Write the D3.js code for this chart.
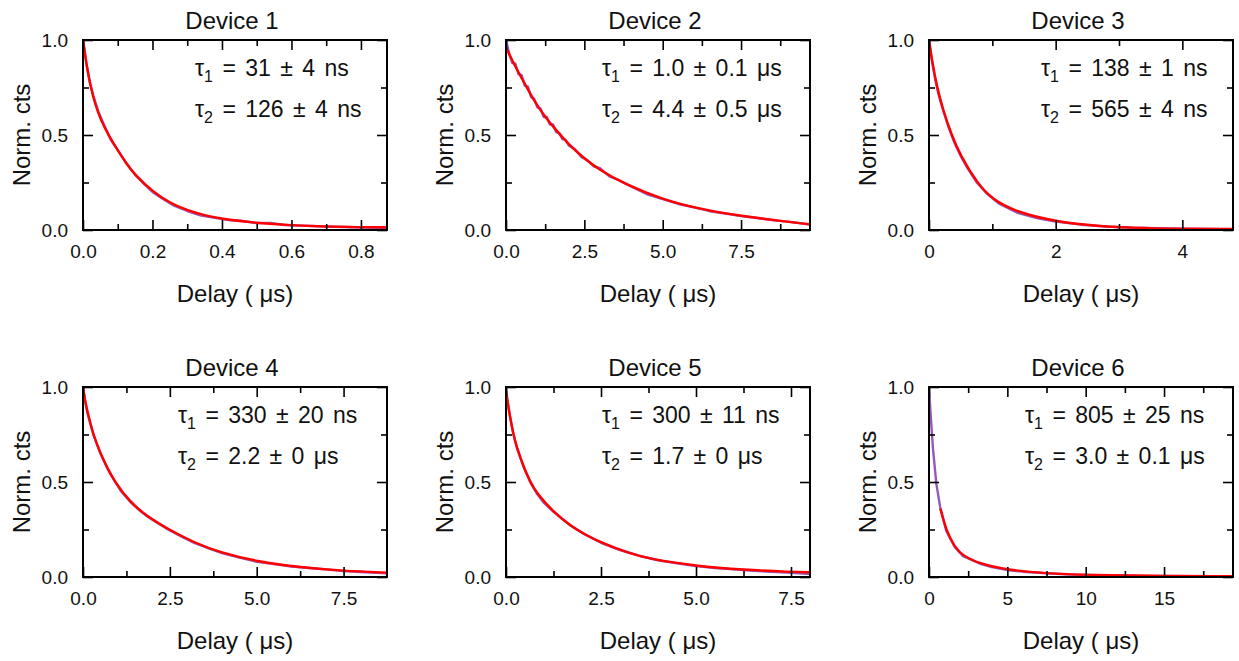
<!DOCTYPE html>
<html>
<head>
<meta charset="utf-8">
<script src="https://cdn.jsdelivr.net/npm/d3@7"></script>
<style>
  html, body { margin: 0; padding: 0; background: #fff; }
  svg { display: block; font-family: "Liberation Sans", Arial, Helvetica, sans-serif; }
  text { white-space: pre; }
</style>
</head>
<body>
<svg id="chart" width="1239" height="661"></svg>
<script>
// ---------------- DATA ----------------
const panelTitles = ["Device 1", "Device 2", "Device 3", "Device 4", "Device 5", "Device 6"];
const tau1Labels = ["31 ± 4 ns", "1.0 ± 0.1 μs", "138 ± 1 ns", "330 ± 20 ns", "300 ± 11 ns", "805 ± 25 ns"];
const tau2Labels = ["126 ± 4 ns", "4.4 ± 0.5 μs", "565 ± 4 ns", "2.2 ± 0 μs", "1.7 ± 0 μs", "3.0 ± 0.1 μs"];
const xAxisTitle = "Delay ( μs)";
const yAxisTitle = "Norm. cts";

const xMax = [0.875, 9.7, 4.8, 8.75, 8.0, 19.4];
const xMajorTicks = [[0, 0.2, 0.4, 0.6, 0.8], [0, 2.5, 5, 7.5], [0, 2, 4], [0, 2.5, 5, 7.5], [0, 2.5, 5, 7.5], [0, 5, 10, 15]];
const xTickLabels = [["0.0", "0.2", "0.4", "0.6", "0.8"], ["0.0", "2.5", "5.0", "7.5"], ["0", "2", "4"], ["0.0", "2.5", "5.0", "7.5"], ["0.0", "2.5", "5.0", "7.5"], ["0", "5", "10", "15"]];
const xMinorTicks = [[0.1, 0.3, 0.5, 0.7], [1.25, 3.75, 6.25, 8.75], [1, 3], [1.25, 3.75, 6.25], [1.25, 3.75, 6.25], [2.5, 7.5, 12.5, 17.5]];
const yMajorTicks = [0, 0.5, 1.0];
const yTickLabels = ["0.0", "0.5", "1.0"];
const yMinorTicks = [0.25, 0.75];

// measured (purple) decays
const dataDelay1 = [0, 0.01, 0.02, 0.03, 0.045, 0.06, 0.08, 0.1, 0.12, 0.15, 0.18, 0.2, 0.23, 0.26, 0.3, 0.34, 0.38, 0.42, 0.46, 0.5, 0.54, 0.58, 0.62, 0.66, 0.7, 0.75, 0.8, 0.85, 0.875];
const dataCounts1 = [1.0, 0.875, 0.775, 0.705, 0.62, 0.555, 0.475, 0.42, 0.365, 0.29, 0.235, 0.2, 0.163, 0.13, 0.1, 0.076, 0.064, 0.052, 0.047, 0.036, 0.037, 0.026, 0.023, 0.021, 0.018, 0.016, 0.013, 0.012, 0.012];
const dataDelay2 = [0, 0.1, 0.2, 0.3, 0.4, 0.5, 0.6, 0.7, 0.8, 0.9, 1.0, 1.1, 1.2, 1.3, 1.4, 1.5, 1.6, 1.7, 1.8, 1.9, 2.0, 2.2, 2.4, 2.6, 2.8, 3.0, 3.3, 3.6, 4.0, 4.5, 5.0, 5.5, 6.0, 6.5, 7.0, 7.5, 8.0, 8.5, 9.0, 9.7];
const dataCounts2 = [1.0, 0.93, 0.88, 0.875, 0.82, 0.815, 0.76, 0.755, 0.70, 0.69, 0.645, 0.64, 0.595, 0.595, 0.555, 0.555, 0.515, 0.51, 0.478, 0.475, 0.445, 0.425, 0.385, 0.367, 0.335, 0.325, 0.282, 0.262, 0.228, 0.188, 0.162, 0.137, 0.119, 0.099, 0.087, 0.073, 0.063, 0.052, 0.044, 0.029];
const dataDelay3 = [0, 0.05, 0.1, 0.15, 0.22, 0.3, 0.4, 0.5, 0.6, 0.75, 0.9, 1.1, 1.4, 1.7, 2.0, 2.4, 2.8, 3.2, 3.6, 4.0, 4.4, 4.8];
const dataCounts3 = [1.0, 0.885, 0.79, 0.715, 0.632, 0.55, 0.46, 0.39, 0.33, 0.252, 0.196, 0.14, 0.09, 0.063, 0.045, 0.028, 0.018, 0.012, 0.009, 0.007, 0.005, 0.004];
const dataDelay4 = [0, 0.05, 0.12, 0.2, 0.3, 0.5, 0.7, 0.9, 1.1, 1.35, 1.6, 1.85, 2.1, 2.47, 2.8, 3.2, 3.6, 4.0, 4.5, 5.0, 5.5, 6.0, 6.5, 7.0, 7.5, 8.0, 8.75];
const dataCounts4 = [1.0, 0.935, 0.87, 0.815, 0.748, 0.652, 0.572, 0.508, 0.45, 0.397, 0.355, 0.318, 0.29, 0.248, 0.216, 0.18, 0.152, 0.126, 0.102, 0.08, 0.068, 0.055, 0.047, 0.04, 0.031, 0.026, 0.02];
const dataDelay5 = [0, 0.03, 0.1, 0.19, 0.28, 0.46, 0.64, 0.81, 1.0, 1.25, 1.5, 1.7, 2.05, 2.5, 3.0, 3.5, 4.0, 4.5, 5.0, 5.5, 6.0, 6.5, 7.0, 7.5, 8.0];
const dataCounts5 = [1.0, 0.94, 0.85, 0.757, 0.683, 0.582, 0.498, 0.44, 0.39, 0.343, 0.302, 0.271, 0.227, 0.18, 0.142, 0.112, 0.088, 0.072, 0.058, 0.047, 0.04, 0.033, 0.027, 0.022, 0.016];
const dataDelay6 = [0, 0.1, 0.26, 0.47, 0.73, 1.1, 1.64, 2.17, 3.23, 4.0, 5.0, 6.0, 7.5, 9, 10, 12, 14, 15, 17, 19.4];
const dataCounts6 = [1.0, 0.86, 0.67, 0.49, 0.36, 0.243, 0.158, 0.11, 0.071, 0.052, 0.036, 0.028, 0.019, 0.013, 0.011, 0.008, 0.006, 0.005, 0.004, 0.003];

// fitted (red) decays
const fitDelay1 = [0, 0.01, 0.02, 0.035, 0.05, 0.073, 0.1, 0.125, 0.15, 0.2, 0.25, 0.3, 0.35, 0.4, 0.5, 0.6, 0.7, 0.8, 0.875];
const fitCounts1 = [1.0, 0.87, 0.77, 0.66, 0.585, 0.5, 0.42, 0.348, 0.29, 0.203, 0.143, 0.103, 0.077, 0.058, 0.037, 0.025, 0.018, 0.015, 0.014];
const fitDelay2 = [0, 0.25, 0.5, 0.875, 1.25, 1.5, 2.0, 2.5, 3.0, 3.75, 5.0, 6.25, 7.5, 8.5, 9.7];
const fitCounts2 = [0.96, 0.875, 0.80, 0.685, 0.595, 0.545, 0.45, 0.375, 0.315, 0.245, 0.16, 0.108, 0.074, 0.053, 0.03];
const fitDelay3 = [0, 0.05, 0.128, 0.22, 0.356, 0.5, 0.755, 1.0, 1.38, 2.0, 2.64, 3.17, 4.0, 4.8];
const fitCounts3 = [1.0, 0.885, 0.75, 0.635, 0.5, 0.39, 0.25, 0.16, 0.095, 0.044, 0.021, 0.012, 0.006, 0.005];
const fitDelay4 = [0, 0.05, 0.115, 0.21, 0.3, 0.5, 0.7, 0.9, 1.35, 1.85, 2.47, 3.19, 3.96, 5.0, 6.27, 7.5, 8.75];
const fitCounts4 = [1.0, 0.94, 0.88, 0.81, 0.75, 0.65, 0.575, 0.505, 0.395, 0.318, 0.25, 0.182, 0.128, 0.082, 0.05, 0.032, 0.023];
const fitDelay5 = [0, 0.02, 0.105, 0.19, 0.28, 0.46, 0.64, 0.81, 1.25, 1.69, 2.05, 2.5, 3.24, 3.77, 5.0, 6.25, 7.5, 8.0];
const fitCounts5 = [0.98, 0.95, 0.845, 0.755, 0.685, 0.58, 0.50, 0.44, 0.342, 0.271, 0.227, 0.181, 0.125, 0.095, 0.058, 0.038, 0.027, 0.025];
const fitDelay6 = [0.73, 1.1, 1.64, 2.17, 3.23, 5.0, 7.5, 10, 15, 19.4];
const fitCounts6 = [0.36, 0.245, 0.157, 0.112, 0.07, 0.037, 0.019, 0.011, 0.005, 0.004];

const dataDelays = [dataDelay1, dataDelay2, dataDelay3, dataDelay4, dataDelay5, dataDelay6];
const dataCounts = [dataCounts1, dataCounts2, dataCounts3, dataCounts4, dataCounts5, dataCounts6];
const fitDelays = [fitDelay1, fitDelay2, fitDelay3, fitDelay4, fitDelay5, fitDelay6];
const fitCounts = [fitCounts1, fitCounts2, fitCounts3, fitCounts4, fitCounts5, fitCounts6];

// ---------------- LAYOUT ----------------
const colLeft = [83, 506, 929];
const rowTop = [40, 387];
const plotW = 304, plotH = 190;
const tauOffsetX = [112, 96, 112, 95, 96, 96];

const svg = d3.select("#chart");
svg.append("rect").attr("width", 1239).attr("height", 661).attr("fill", "#fff");

panelTitles.forEach((title, i) => {
  const col = i % 3, row = Math.floor(i / 3);
  const g = svg.append("g").attr("transform", `translate(${colLeft[col]},${rowTop[row]})`);
  const x = d3.scaleLinear().domain([0, xMax[i]]).range([0, plotW]);
  const y = d3.scaleLinear().domain([0, 1]).range([plotH, 0]);

  const clipId = "clip" + i;
  g.append("clipPath").attr("id", clipId).append("rect")
    .attr("x", 0).attr("y", -2).attr("width", plotW).attr("height", plotH + 2);

  // lines
  const dataPts = dataDelays[i].map((t, k) => [t, dataCounts[i][k]]);
  const fitPts = fitDelays[i].map((t, k) => [t, fitCounts[i][k]]);
  const dataLine = d3.line().x(d => x(d[0])).y(d => y(d[1])).curve(d3.curveLinear);
  const fitLine = d3.line().x(d => x(d[0])).y(d => y(d[1])).curve(d3.curveBasis);
  g.append("path").datum(dataPts).attr("clip-path", `url(#${clipId})`)
    .attr("d", dataLine).attr("fill", "none")
    .attr("stroke", "#9658b8").attr("stroke-width", 2.4).attr("stroke-linejoin", "round");
  g.append("path").datum(fitPts).attr("clip-path", `url(#${clipId})`)
    .attr("d", fitLine).attr("fill", "none")
    .attr("stroke", "#ff0000").attr("stroke-width", 2.4).attr("stroke-linejoin", "round");

  // axes
  const fmtX = d => xTickLabels[i][xMajorTicks[i].indexOf(d)];
  const fmtY = d => yTickLabels[yMajorTicks.indexOf(d)];
  const axes = [];
  axes.push(g.append("g").attr("transform", `translate(0,${plotH})`)
    .call(d3.axisBottom(x).tickValues(xMajorTicks[i]).tickSize(-10).tickPadding(15).tickFormat(fmtX)));
  axes.push(g.append("g").attr("transform", `translate(0,${plotH})`)
    .call(d3.axisBottom(x).tickValues(xMinorTicks[i]).tickSize(-6).tickFormat("")));
  axes.push(g.append("g")
    .call(d3.axisTop(x).tickValues(xMajorTicks[i]).tickSize(-10).tickFormat("")));
  axes.push(g.append("g")
    .call(d3.axisTop(x).tickValues(xMinorTicks[i]).tickSize(-6).tickFormat("")));
  axes.push(g.append("g")
    .call(d3.axisLeft(y).tickValues(yMajorTicks).tickSize(-10).tickPadding(15).tickFormat(fmtY)));
  axes.push(g.append("g")
    .call(d3.axisLeft(y).tickValues(yMinorTicks).tickSize(-6).tickFormat("")));
  axes.push(g.append("g").attr("transform", `translate(${plotW},0)`)
    .call(d3.axisRight(y).tickValues(yMajorTicks).tickSize(-10).tickFormat("")));
  axes.push(g.append("g").attr("transform", `translate(${plotW},0)`)
    .call(d3.axisRight(y).tickValues(yMinorTicks).tickSize(-6).tickFormat("")));
  axes.forEach(a => {
    a.select(".domain").remove();
    a.selectAll(".tick line").attr("stroke", "#000").attr("stroke-width", 1.6);
    a.selectAll(".tick text").attr("fill", "#111").style("font-size", "19px")
      .style("font-family", "'Liberation Sans', Arial, sans-serif");
  });

  // frame
  g.append("rect").attr("x", 0).attr("y", 0).attr("width", plotW).attr("height", plotH)
    .attr("fill", "none").attr("stroke", "#000").attr("stroke-width", 2);

  // title
  g.append("text").attr("x", plotW / 2 - 3).attr("y", -11)
    .attr("text-anchor", "middle").style("font-size", "24px").attr("fill", "#111").text(title);

  // axis titles
  g.append("text").attr("x", plotW / 2).attr("y", plotH + 72)
    .attr("text-anchor", "middle").style("font-size", "24px").attr("fill", "#111").text(xAxisTitle);
  g.append("text").attr("transform", `translate(-53,${plotH / 2}) rotate(-90)`)
    .attr("text-anchor", "middle").style("font-size", "24px").attr("fill", "#111").text(yAxisTitle);

  // tau annotations
  [[tau1Labels[i], "1", 36], [tau2Labels[i], "2", 77]].forEach(([lab, sub, yy]) => {
    const t = g.append("text").attr("x", tauOffsetX[i]).attr("y", yy)
      .style("font-size", "23px").style("word-spacing", "3px").attr("fill", "#111");
    t.append("tspan").text("τ");
    t.append("tspan").attr("dy", 6).style("font-size", "16px").text(sub);
    t.append("tspan").attr("dy", -6).text(" = " + lab);
  });
});
</script>
</body>
</html>
